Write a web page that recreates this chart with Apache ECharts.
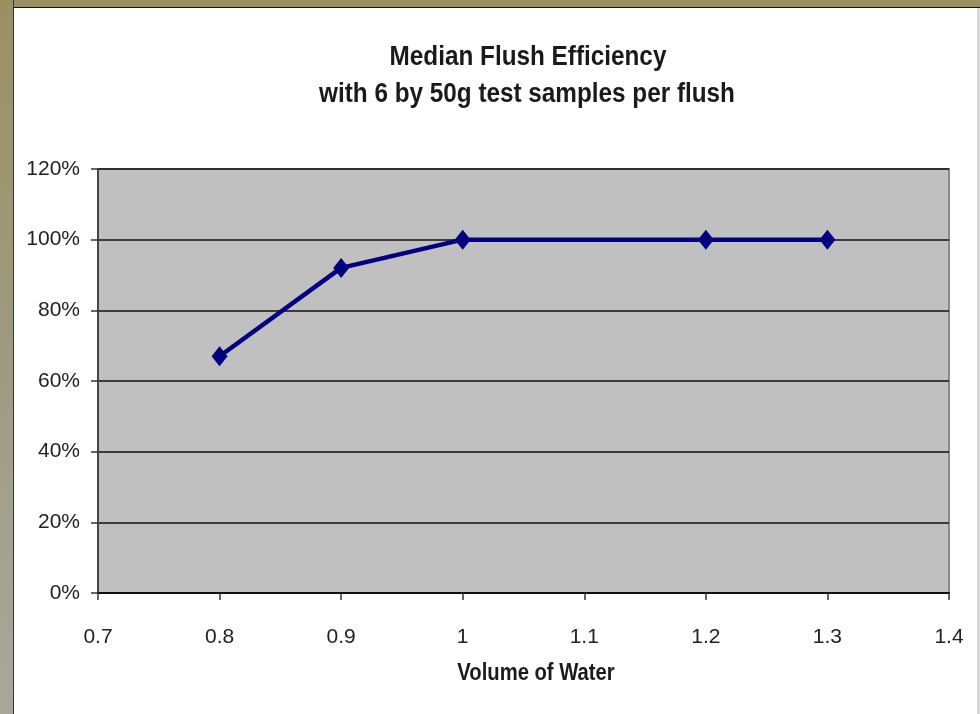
<!DOCTYPE html>
<html>
<head>
<meta charset="utf-8">
<script src="https://cdn.jsdelivr.net/npm/echarts@6/dist/echarts.min.js"></script>
<style>
html,body{margin:0;padding:0;width:980px;height:714px;overflow:hidden;background:#fff;}
#frameTop{position:absolute;left:0;top:0;width:980px;height:7px;background:#9a9062;border-bottom:1px solid #111;}
#frameLeft{position:absolute;left:0;top:0;width:13px;height:714px;background:linear-gradient(#9a9062,#a09c84 55%,#a9a79c);border-right:1px solid #333;}
#frameRight{position:absolute;left:977px;top:8px;width:3px;height:706px;background:#d8d8d8;}
#chart{position:absolute;left:0;top:0;width:980px;height:714px;}
</style>
</head>
<body>
<div id="chart"></div>
<div id="frameTop"></div>
<div id="frameLeft"></div>
<div id="frameRight"></div>
<script>
var titleLines = ['Median Flush Efficiency', 'with 6 by 50g test samples per flush'];
var xAxisName = 'Volume of Water';
var volumes = [0.8, 0.9, 1.0, 1.2, 1.3];
var efficiency = [0.67, 0.92, 1.0, 1.0, 1.0];
var xTicks = [0.7, 0.8, 0.9, 1.0, 1.1, 1.2, 1.3, 1.4];
var yTicks = [0, 0.2, 0.4, 0.6, 0.8, 1.0, 1.2];

var fam = '"Liberation Sans", Arial, sans-serif';
var chart = echarts.init(document.getElementById('chart'), null, {renderer: 'canvas'});
chart.setOption({
  backgroundColor: '#ffffff',
  animation: false,
  graphic: [
    {type: 'text', x: 528, y: 58, scaleX: 0.9, z: 10,
     style: {text: titleLines[0], textAlign: 'center', textVerticalAlign: 'middle',
       font: 'bold 27px ' + fam, fill: '#1a1a1a'}},
    {type: 'text', x: 527, y: 95, scaleX: 0.9, z: 10,
     style: {text: titleLines[1], textAlign: 'center', textVerticalAlign: 'middle',
       font: 'bold 27px ' + fam, fill: '#1a1a1a'}},
    {type: 'text', x: 536, y: 674, scaleX: 0.88, z: 10,
     style: {text: xAxisName, textAlign: 'center', textVerticalAlign: 'middle',
       font: 'bold 23px ' + fam, fill: '#1a1a1a'}}
  ],
  grid: {left: 98, top: 169, right: 31, bottom: 121, show: true, backgroundColor: '#c0c0c0', borderColor: '#8a8a8a', borderWidth: 2},
  xAxis: {
    type: 'value', min: xTicks[0], max: xTicks[xTicks.length - 1], interval: 0.1,
    axisLine: {onZero: false, lineStyle: {color: '#111', width: 2}},
    axisTick: {show: true, inside: false, length: 7, lineStyle: {color: '#333', width: 1.5}},
    axisLabel: {margin: 34, fontFamily: fam, fontSize: 21, color: '#222',
      formatter: function (v) { return String(Math.round(v * 10) / 10); }},
    splitLine: {show: false}
  },
  yAxis: {
    type: 'value', min: yTicks[0], max: yTicks[yTicks.length - 1], interval: 0.2,
    axisLine: {show: true, lineStyle: {color: '#444', width: 2}},
    axisTick: {show: true, inside: false, length: 7, lineStyle: {color: '#333', width: 1.5}},
    axisLabel: {margin: 18, fontFamily: fam, fontSize: 21, color: '#222',
      formatter: function (v) { return Math.round(v * 100) + '%'; }},
    splitLine: {show: true, lineStyle: {color: '#111', width: 1.5}}
  },
  series: [{
    type: 'line',
    data: volumes.map(function (v, i) { return [v, efficiency[i]]; }),
    lineStyle: {color: '#000080', width: 4.5},
    itemStyle: {color: '#000080'},
    symbol: 'diamond', symbolSize: [16, 20],
    z: 5
  }]
});
</script>
</body>
</html>
